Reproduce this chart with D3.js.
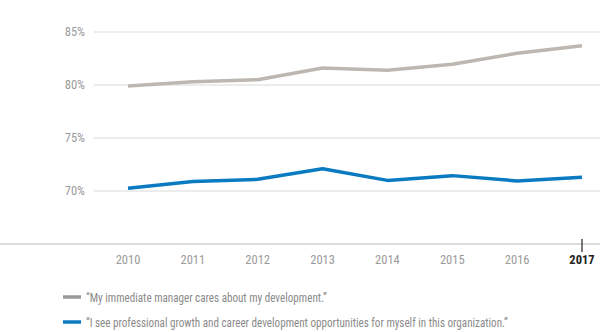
<!DOCTYPE html>
<html>
<head>
<meta charset="utf-8">
<script src="https://cdn.jsdelivr.net/npm/d3@7"></script>
<style>
  body { margin: 0; background: #fff; }
  text { font-family: "Liberation Sans Narrow", "Roboto Condensed", Roboto, sans-serif; }
</style>
</head>
<body>
<div id="vis"></div>
<script>
// survey results by year
let years = [2010, 2011, 2012, 2013, 2014, 2015, 2016, 2017];
let managerCares = [79.9, 80.3, 80.5, 81.6, 81.4, 81.95, 83.0, 83.7];
let growthOpps = [70.25, 70.9, 71.1, 72.1, 71.0, 71.45, 70.95, 71.3];
let yTicks = [70, 75, 80, 85];
let legendLabels = [
  '\u201cMy immediate manager cares about my development.\u201d',
  '\u201cI see professional growth and career development opportunities for myself in this organization.\u201d'
];
let colors = ['#bdb7b2', '#0a7bc0'];

let width = 600, height = 332;
let margin = { top: 0, left: 94, right: 0, bottom: 0 };

let svg = d3.select('#vis')
  .append('svg')
    .attr('width', width)
    .attr('height', height);

let xScale = d3.scalePoint()
  .domain(years)
  .range([128, 582]);

let yScale = d3.scaleLinear()
  .domain([65, 85])
  .range([244, 32]);

// horizontal gridlines
svg.append('g')
  .selectAll('line')
  .data(yTicks)
  .enter().append('line')
    .attr('x1', margin.left)
    .attr('x2', width)
    .attr('y1', d => yScale(d))
    .attr('y2', d => yScale(d))
    .attr('stroke', '#d9d9d9')
    .attr('stroke-width', 1);

// y labels
svg.append('g')
  .selectAll('text')
  .data(yTicks)
  .enter().append('text')
    .attr('x', 85)
    .attr('y', d => yScale(d))
    .attr('dy', '0.35em')
    .attr('text-anchor', 'end')
    .attr('fill', '#9a9a9a')
    .style('font-size', '12.5px')
    .text(d => d + '%');

// baseline
svg.append('line')
  .attr('x1', 0)
  .attr('x2', width)
  .attr('y1', yScale(65))
  .attr('y2', yScale(65))
  .attr('stroke', '#d0d0d0')
  .attr('stroke-width', 1.5);

// marker for the latest year
let last = years[years.length - 1];
svg.append('line')
  .attr('x1', xScale(last))
  .attr('x2', xScale(last))
  .attr('y1', yScale(65) - 5)
  .attr('y2', yScale(65) + 8)
  .attr('stroke', '#222')
  .attr('stroke-width', 1.2);

// year labels
svg.append('g')
  .selectAll('text')
  .data(years)
  .enter().append('text')
    .attr('x', d => xScale(d))
    .attr('y', 260)
    .attr('dy', '0.35em')
    .attr('text-anchor', 'middle')
    .attr('fill', d => d === last ? '#222' : '#9a9a9a')
    .style('font-weight', d => d === last ? 'bold' : 'normal')
    .style('font-size', '12.5px')
    .text(d => d);

let line = d3.line()
  .x((d, i) => xScale(years[i]))
  .y(d => yScale(d));

[managerCares, growthOpps].forEach(function(series, i) {
  svg.append('path')
    .attr('d', line(series))
    .attr('fill', 'none')
    .attr('stroke', colors[i])
    .attr('stroke-width', 3.5)
    .attr('stroke-linejoin', 'round');
});

// legend
let legend = svg.append('g')
  .selectAll('g')
  .data(legendLabels)
  .enter().append('g')
    .attr('transform', (d, i) => 'translate(63,' + (297 + i * 25) + ')');

legend.append('line')
  .attr('x1', 0)
  .attr('x2', 18)
  .attr('stroke', (d, i) => i === 0 ? '#9c9a98' : colors[1])
  .attr('stroke-width', 3.5);

// condensed look for the long quotes
legend.append('text')
  .attr('transform', 'translate(23,0) scale(0.855,1)')
  .attr('dy', '0.35em')
  .attr('fill', '#8a8a8a')
  .style('font-size', '13px')
  .text(d => d);
</script>
</body>
</html>
